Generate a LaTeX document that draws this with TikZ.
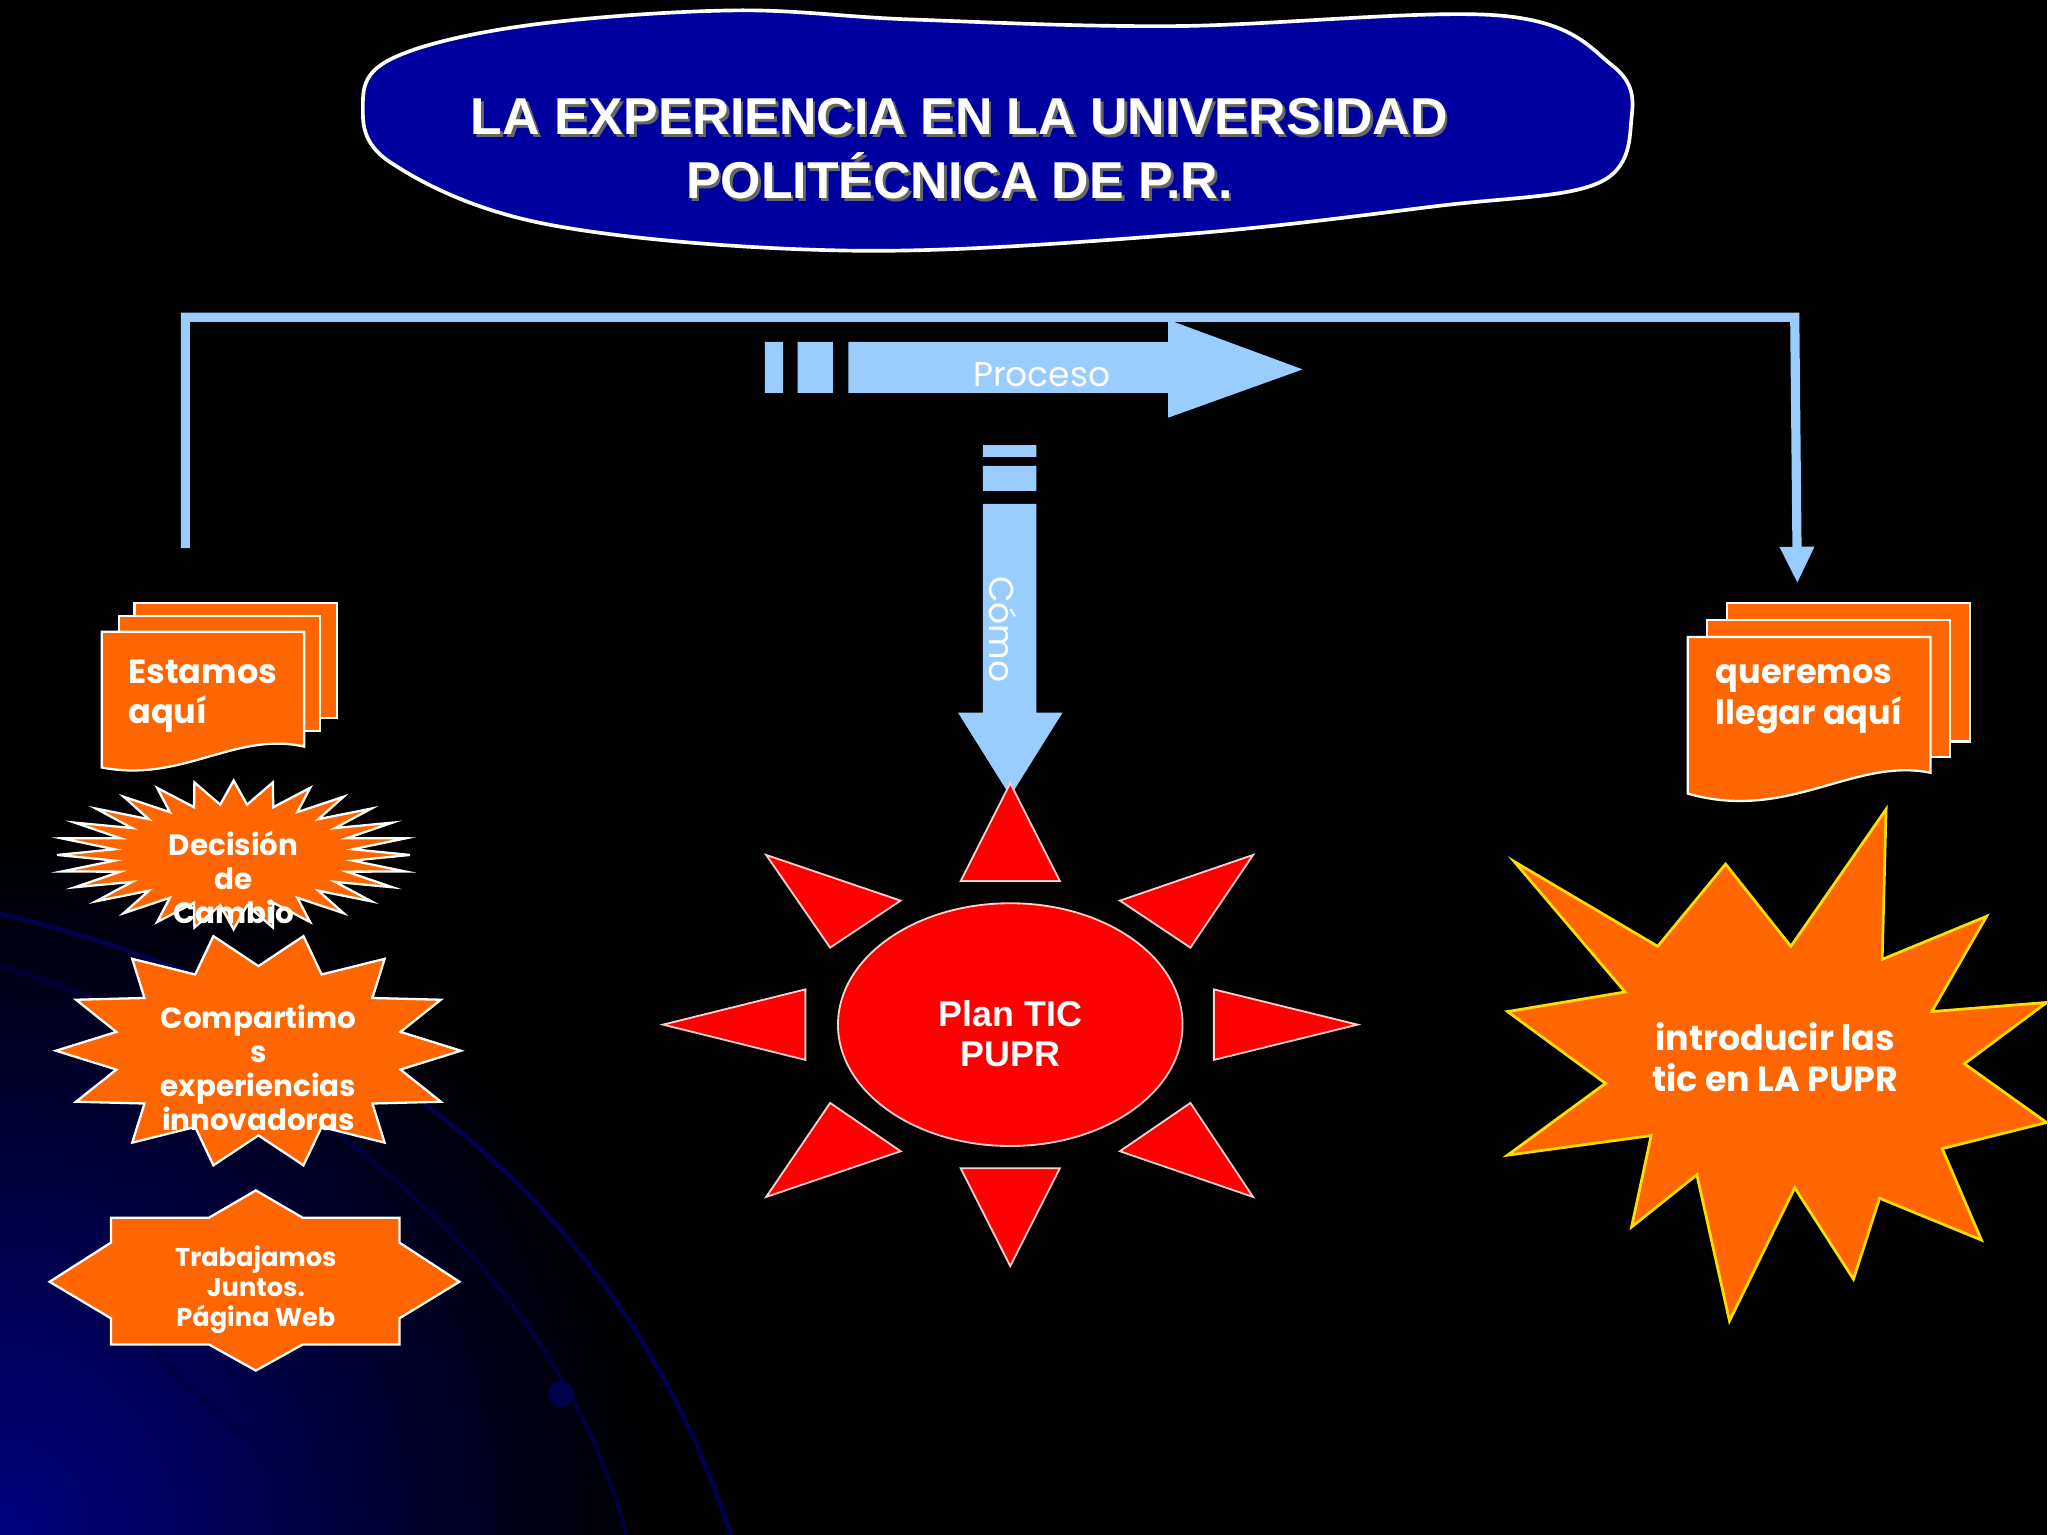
\documentclass[tikz,border=0pt]{standalone}
\usepackage{fontspec}
\setmainfont{Poppins}
\newfontfamily\titlefont{Liberation Sans}
\usetikzlibrary{shapes.geometric,arrows.meta}
\definecolor{lb}{HTML}{99CCFF}
\definecolor{org}{HTML}{FF6600}
\definecolor{tblue}{HTML}{0000A0}
\tikzset{
 orangeshape/.style={fill=org,draw=white,line width=0.5pt},
 lbl/.style={text=white,font=\bfseries\fontsize{7.3}{8.8}\selectfont,align=center},
 sray/.style={fill=red,draw=white!80!red,line width=0.4pt},
}
\begin{document}
\begin{tikzpicture}[x=0.01cm,y=-0.01cm]
\fill[black] (0,0) rectangle (1568,1176);
\begin{scope}
\clip (0,0) rectangle (1568,1176);
\shade[inner color=blue!50!black,outer color=black] (0,1176) ellipse (500 and 540);
\draw[blue!30!black,line width=1pt] (0,700) .. controls (250,760) and (470,900) .. (560,1176);
\draw[blue!25!black,line width=0.8pt] (0,740) .. controls (200,800) and (420,950) .. (480,1176);
\draw[blue!25!black,line width=0.8pt] (60,960) .. controls (120,1050) and (200,1120) .. (300,1176);
\fill[blue!30!black] (430,1068) circle (10);
\end{scope}
% title
\draw[fill=tblue,draw=white,line width=0.8pt] plot[smooth cycle,tension=0.6] coordinates {(300,45) (400,20) (560,8) (700,15) (900,20) (1150,12) (1235,50) (1250,90) (1225,140) (1100,158) (900,180) (650,192) (420,172) (300,125) (278,80)};
\node[font=\titlefont\bfseries\fontsize{11.3}{14}\selectfont,text=black!60,align=center] at (737,116) {LA EXPERIENCIA EN LA UNIVERSIDAD\\POLITÉCNICA DE P.R.};
\node (title) [font=\titlefont\bfseries\fontsize{11.3}{14}\selectfont,text=white,align=center] at (735,114) {LA EXPERIENCIA EN LA UNIVERSIDAD\\POLITÉCNICA DE P.R.};
% bracket
\coordinate (bl) at (142,420);
\coordinate (br) at (1377,447);
\draw[lb,line width=2pt,-{Triangle[length=8pt,width=7pt]}] (bl) |- (1375,243) -- (br);
% Proceso arrow
\fill[lb] (586,262) rectangle (600,301) (611,262) rectangle (638,301);
\fill[lb] (650,262) -- (895,262) -- (895,245) -- (998,283) -- (895,320) -- (895,301) -- (650,301) -- cycle;
\node (proc) [text=white,font=\fontsize{7.5}{9}\selectfont] at (798,287) {Proceso};
% Como arrow
\fill[lb] (753,341) rectangle (794,350) (753,357) rectangle (794,376);
\fill[lb] (753,386) -- (794,386) -- (794,546) -- (814,546) -- (774,610) -- (734,546) -- (753,546) -- cycle;
\node (como) [text=white,font=\fontsize{7.5}{9}\selectfont,rotate=-90] at (768,482) {Cómo};
% Estamos aqui doc
\fill[org,draw=white,line width=0.5pt] (103,462) rectangle (258,550);
\fill[org,draw=white,line width=0.5pt] (91,472) rectangle (245,560);
\fill[org,draw=white,line width=0.5pt] (78,484) -- (233,484) -- (233,572) .. controls (180,560) and (140,600) .. (78,588) -- cycle;
\node (est) [lbl,align=left,anchor=north west] at (86,493) {Estamos\\aquí};
% queremos doc
\fill[org,draw=white,line width=0.5pt] (1323,462) rectangle (1509,568);
\fill[org,draw=white,line width=0.5pt] (1308,475) rectangle (1494,580);
\fill[org,draw=white,line width=0.5pt] (1293,488) -- (1479,488) -- (1479,592) .. controls (1420,580) and (1370,630) .. (1293,608) -- cycle;
\node (que) [lbl,align=left,anchor=north west] at (1302,497) {queremos\\llegar aquí};
% Decision starburst
\begin{scope}[shift={(179,655)},x=1.35cm,y=-0.57cm]
\fill[orangeshape] (0:1) \foreach \k in {0,...,27} { -- ({\k*360/28+360/56}:0.68) -- ({(\k+1)*360/28}:1) } -- cycle;
\end{scope}
\node (dec) [lbl,font=\bfseries\fontsize{6.4}{7.4}\selectfont] at (179,672) {Decisión\\de\\Cambio};
% Compartimos star
\begin{scope}[shift={(198,805)},x=1.55cm,y=-0.9cm]
\fill[orangeshape] (0:1) \foreach \k in {0,...,13} { -- ({\k*360/14+360/28}:0.72) -- ({(\k+1)*360/14}:1) } -- cycle;
\end{scope}
\node (comp) [lbl,font=\bfseries\fontsize{6.4}{7.4}\selectfont] at (198,818) {Compartimo\\s\\experiencias\\innovadoras};
% Trabajamos
\fill[orangeshape] (38,982) -- (85,952) -- (85,933) -- (160,933) -- (196,912) -- (232,933) -- (306,933) -- (306,952) -- (352,982) -- (306,1010) -- (306,1030) -- (232,1030) -- (196,1050) -- (160,1030) -- (85,1030) -- (85,1010) -- cycle;
\node (trab) [lbl,font=\bfseries\fontsize{5.6}{6.6}\selectfont] at (196,988) {Trabajamos\\Juntos.\\Página Web};
% sun
\fill[sray] (774,600) -- (812,675) -- (736,675) -- cycle;
\fill[sray] (774,970) -- (812,895) -- (736,895) -- cycle;
\fill[sray] (508,785) -- (617,758) -- (617,812) -- cycle;
\fill[sray] (1040,785) -- (930,758) -- (930,812) -- cycle;
\fill[sray] (587,655) -- (690,690) -- (636,726) -- cycle;
\fill[sray] (960,655) -- (858,690) -- (912,726) -- cycle;
\fill[sray] (587,917) -- (636,845) -- (690,882) -- cycle;
\fill[sray] (960,917) -- (912,845) -- (858,882) -- cycle;
\draw[sray] (774,785) ellipse (132 and 93);
\node (plan) [lbl,font=\titlefont\bfseries\fontsize{7.8}{8.8}\selectfont] at (774,792) {Plan TIC\\PUPR};
% big star
\fill[org,draw=yellow!80!orange,line width=0.6pt] (1160,660) -- (1270,725) -- (1322,662) -- (1372,725) -- (1445,620) -- (1442,735) -- (1522,702) -- (1480,775) -- (1568,768) -- (1505,815) -- (1568,860) -- (1488,880) -- (1518,950) -- (1440,918) -- (1420,980) -- (1375,910) -- (1325,1012) -- (1300,900) -- (1250,940) -- (1265,870) -- (1155,885) -- (1230,830) -- (1155,775) -- (1245,760) -- cycle;
\node (intro) [lbl,font=\bfseries\fontsize{7.6}{8.8}\selectfont] at (1360,810) {introducir las\\tic en LA PUPR};
\end{tikzpicture}
\end{document}
